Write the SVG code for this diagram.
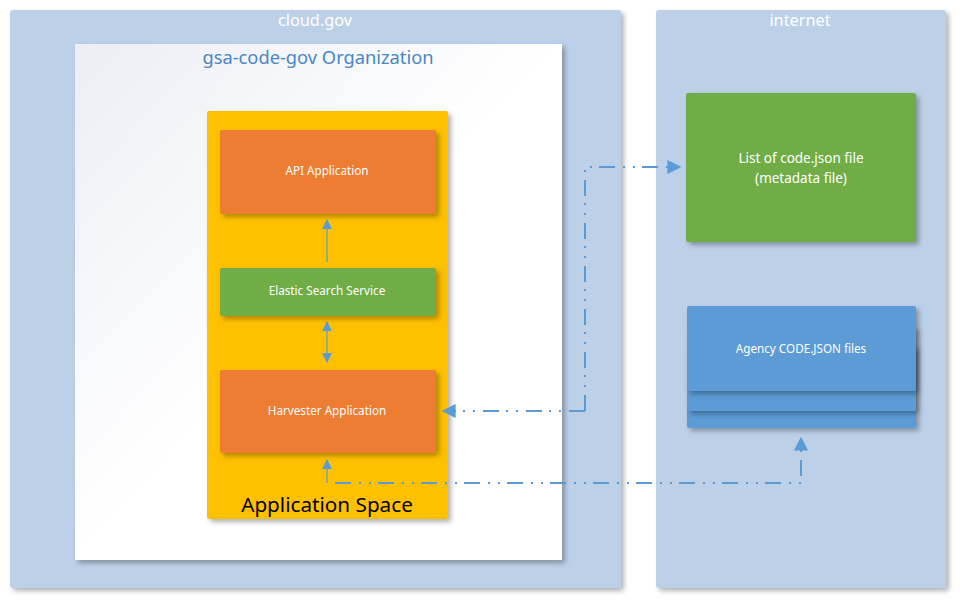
<svg xmlns="http://www.w3.org/2000/svg" width="960" height="604" viewBox="0 0 960 604">
<defs>
<filter id="sh" x="-10%" y="-10%" width="130%" height="130%">
<feDropShadow dx="3" dy="3" stdDeviation="2.5" flood-color="#000" flood-opacity="0.3"/>
</filter>
<linearGradient id="org" x1="0" y1="0" x2="1" y2="1">
<stop offset="0" stop-color="#EBEEF5"/>
<stop offset="0.5" stop-color="#FFFFFF"/>
<stop offset="1" stop-color="#FFFFFF"/>
</linearGradient>
<marker id="ah" viewBox="0 0 10 10" refX="9" refY="5" markerWidth="10" markerHeight="10" markerUnits="userSpaceOnUse" orient="auto-start-reverse">
<path d="M0,0 L10,5 L0,10 z" fill="#5B9BD5"/>
</marker>
<marker id="ahb" viewBox="0 0 10 10" refX="9" refY="5" markerWidth="14" markerHeight="14" markerUnits="userSpaceOnUse" orient="auto-start-reverse">
<path d="M0,0 L10,5 L0,10 z" fill="#5B9BD5"/>
</marker>
<style>
.zone{fill:#BCD0E8;filter:url(#sh)}
.ztitle{font-family:"Noto Sans","Open Sans",sans-serif;font-size:16.3px;fill:#FFFFFF;text-anchor:middle}
.lbl{font-family:"Noto Sans","Open Sans",sans-serif;font-size:11.7px;fill:#FFFFFF;text-anchor:middle}
.orange{fill:#ED7D31;filter:url(#sh)}
.green{fill:#70AD47;filter:url(#sh)}
.blue{fill:#5B9BD5;filter:url(#sh)}
.conn{fill:none;stroke:#5B9BD5;stroke-width:1.2}
.dd{fill:none;stroke:#5B9BD5;stroke-width:2;stroke-dasharray:16 8 2 8 2 7}
</style>
</defs>
<rect width="960" height="604" fill="#FFFFFF"/>
<g id="cloud-gov">
<rect class="zone" x="10" y="10" width="611" height="578" rx="3"/>
<text class="ztitle" x="315" y="26">cloud.gov</text>
</g>
<g id="internet">
<rect class="zone" x="656" y="10" width="290" height="578" rx="3"/>
<text class="ztitle" x="800" y="26">internet</text>
</g>
<g id="organization">
<rect x="75" y="44" width="487" height="516" fill="url(#org)" filter="url(#sh)"/>
<text x="318" y="64" font-family="'Noto Sans','Open Sans',sans-serif" font-size="18.3px" fill="#4A86C5" text-anchor="middle">gsa-code-gov Organization</text>
</g>
<g id="application-space">
<rect x="207" y="111" width="241" height="408" fill="#FFC000" filter="url(#sh)" rx="2"/>
<text x="327" y="512" font-family="'Noto Sans','Open Sans',sans-serif" font-size="20.7px" fill="#000000" text-anchor="middle">Application Space</text>
</g>
<g id="api-application">
<rect class="orange" x="220" y="130" width="216" height="84" rx="2"/>
<text class="lbl" x="327" y="175">API Application</text>
</g>
<g id="elastic-search">
<rect class="green" x="220" y="268" width="216" height="48" rx="2"/>
<text class="lbl" x="327" y="295">Elastic Search Service</text>
</g>
<g id="harvester">
<rect class="orange" x="220" y="370" width="216" height="83" rx="2"/>
<text class="lbl" x="327" y="415">Harvester Application</text>
</g>
<g id="code-json-list">
<rect class="green" x="686" y="93" width="230" height="149" rx="2"/>
<text x="801" y="163" font-family="'Noto Sans','Open Sans',sans-serif" font-size="13.5px" fill="#FFFFFF" text-anchor="middle">List of code.json file</text>
<text x="801" y="183" font-family="'Noto Sans','Open Sans',sans-serif" font-size="13.5px" fill="#FFFFFF" text-anchor="middle">(metadata file)</text>
</g>
<g id="agency-files">
<rect class="blue" x="687" y="345" width="229" height="83" rx="2"/>
<rect class="blue" x="687" y="326" width="229" height="85" rx="2"/>
<rect class="blue" x="687" y="306" width="229" height="85" rx="2"/>
<text class="lbl" x="801" y="353">Agency CODE.JSON files</text>
</g>
<g id="connectors">
<line class="conn" x1="327" y1="262" x2="327" y2="220" marker-end="url(#ah)"/>
<line class="conn" x1="327" y1="322" x2="327" y2="362" marker-start="url(#ah)" marker-end="url(#ah)"/>
<line class="conn" x1="327" y1="483" x2="327" y2="460" marker-end="url(#ah)"/>
<polyline class="dd" points="335,483 801,483 801,438" marker-end="url(#ahb)"/>
<polyline class="dd" points="585,411 585,167 680,167" marker-end="url(#ahb)"/>
<line class="dd" x1="585" y1="411" x2="443" y2="411" marker-end="url(#ahb)"/>
</g>
</svg>
